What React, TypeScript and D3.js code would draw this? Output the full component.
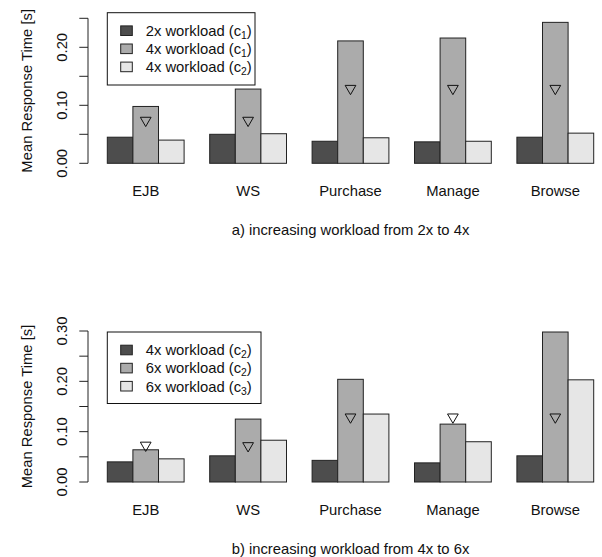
import React from "react";
import * as d3 from "d3";

const categories = ["EJB", "WS", "Purchase", "Manage", "Browse"];

// Panel a) increasing workload from 2x to 4x
const topLegendNames = ["2x workload (c", "4x workload (c", "4x workload (c"];
const topLegendSubs = ["1", "1", "2"];
const top2xC1 = [0.045, 0.05, 0.038, 0.037, 0.045];
const top4xC1 = [0.098, 0.128, 0.211, 0.216, 0.243];
const top4xC2 = [0.04, 0.051, 0.044, 0.038, 0.052];
const topPredicted = [0.074, 0.074, 0.129, 0.129, 0.129];
const topTicks = [0, 0.05, 0.1, 0.15, 0.2, 0.25];
const topTickLabels = ["0.00", "", "0.10", "", "0.20", ""];

// Panel b) increasing workload from 4x to 6x
const bottomLegendNames = ["4x workload (c", "6x workload (c", "6x workload (c"];
const bottomLegendSubs = ["2", "2", "3"];
const bottom4xC2 = [0.04, 0.052, 0.043, 0.038, 0.052];
const bottom6xC2 = [0.064, 0.125, 0.204, 0.115, 0.298];
const bottom6xC3 = [0.046, 0.083, 0.135, 0.08, 0.203];
const bottomPredicted = [0.073, 0.072, 0.129, 0.129, 0.129];
const bottomTicks = [0, 0.05, 0.1, 0.15, 0.2, 0.25, 0.3];
const bottomTickLabels = ["0.00", "", "0.10", "", "0.20", "", "0.30"];

const yTitle = "Mean Response Time [s]";
const topSubtitle = "a) increasing workload from 2x to 4x";
const bottomSubtitle = "b) increasing workload from 4x to 6x";

const fills = ["#4d4d4d", "#ababab", "#e6e6e6"];
const FONT = "'Liberation Sans', Arial, Helvetica, sans-serif";
const FS = 14.8;

type PanelProps = {
  series: number[][];
  predicted: number[];
  ticks: number[];
  tickLabels: string[];
  yMax: number;
  yTop: number;
  yBottom: number;
  legendNames: string[];
  legendSubs: string[];
  legendBox: { top: number; bottom: number; right: number };
  subtitle: string;
};

function Panel(p: PanelProps) {
  const x0 = d3
    .scaleBand<string>()
    .domain(categories)
    .range([107.3, 593.7])
    .paddingInner(0.25)
    .paddingOuter(0);
  const x1 = d3
    .scaleBand<number>()
    .domain([0, 1, 2])
    .range([0, x0.bandwidth()]);
  const y = d3.scaleLinear().domain([0, p.yMax]).range([p.yBottom, p.yTop]);
  const axisX = 88;
  const plotMid = (y(0) + y(p.yMax)) / 2;
  const plotCenterX = (107.3 + 593.7) / 2;
  const r = 6.2;
  const xc = (Math.sqrt(3) / 2) * r;
  const tri = (cx: number, cy: number) =>
    `M${cx - xc},${cy - r / 2}L${cx + xc},${cy - r / 2}L${cx},${cy + r}Z`;
  const rowGap = 18.1;
  const firstRow = p.legendBox.top + 18;
  return (
    <g>
      {/* y axis */}
      <line x1={axisX} x2={axisX} y1={y(0)} y2={y(p.yMax)} stroke="#222" strokeWidth={1} />
      {p.ticks.map((t, i) => (
        <g key={i}>
          <line x1={axisX} x2={axisX - 8.7} y1={y(t)} y2={y(t)} stroke="#222" strokeWidth={1} />
          {p.tickLabels[i] && (
            <text
              transform={`translate(66.7,${y(t)}) rotate(-90)`}
              textAnchor="middle"
              fontFamily={FONT}
              fontSize={FS}
              fill="#111"
            >
              {p.tickLabels[i]}
            </text>
          )}
        </g>
      ))}
      <text
        transform={`translate(31.7,${plotMid}) rotate(-90)`}
        textAnchor="middle"
        fontFamily={FONT}
        fontSize={FS}
        fill="#111"
      >
        {yTitle}
      </text>
      {/* bars */}
      {categories.map((c, ci) => (
        <g key={c}>
          {p.series.map((s, si) => (
            <rect
              key={si}
              x={(x0(c) as number) + (x1(si) as number)}
              y={y(s[ci])}
              width={x1.bandwidth()}
              height={y(0) - y(s[ci])}
              fill={fills[si]}
              stroke="#222"
              strokeWidth={1}
            />
          ))}
          <path
            d={tri((x0(c) as number) + (x1(1) as number) + x1.bandwidth() / 2, y(p.predicted[ci]))}
            fill="none"
            stroke="#111"
            strokeWidth={1}
          />
          <text
            x={(x0(c) as number) + x0.bandwidth() / 2}
            y={y(0) + 33}
            textAnchor="middle"
            fontFamily={FONT}
            fontSize={FS}
            fill="#111"
          >
            {c}
          </text>
        </g>
      ))}
      <text
        x={plotCenterX}
        y={y(0) + 71.5}
        textAnchor="middle"
        fontFamily={FONT}
        fontSize={FS}
        fill="#111"
      >
        {p.subtitle}
      </text>
      {/* legend */}
      <rect
        x={107.3}
        y={p.legendBox.top}
        width={p.legendBox.right - 107.3}
        height={p.legendBox.bottom - p.legendBox.top}
        fill="white"
        stroke="#111"
        strokeWidth={1}
      />
      {p.legendNames.map((n, i) => {
        const ry = firstRow + i * rowGap;
        return (
          <g key={i}>
            <rect x={120.7} y={ry - 4.8} width={11.6} height={9.6} fill={fills[i]} stroke="#222" strokeWidth={1} />
            <text x={145.7} y={ry + 5.3} fontFamily={FONT} fontSize={FS} fill="#111">
              {n}
              <tspan fontSize={FS * 0.7} dy={3}>
                {p.legendSubs[i]}
              </tspan>
              <tspan dy={-3}>)</tspan>
            </text>
          </g>
        );
      })}
    </g>
  );
}

export default function App() {
  return (
    <svg
      width={602}
      height={557}
      viewBox="0 0 602 557"
      style={{ position: "absolute", left: 0, top: 0, background: "white" }}
    >
      <rect x={0} y={0} width={602} height={557} fill="white" />
      <Panel
        series={[top2xC1, top4xC1, top4xC2]}
        predicted={topPredicted}
        ticks={topTicks}
        tickLabels={topTickLabels}
        yMax={0.25}
        yTop={18.3}
        yBottom={163.3}
        legendNames={topLegendNames}
        legendSubs={topLegendSubs}
        legendBox={{ top: 12.7, bottom: 85, right: 255 }}
        subtitle={topSubtitle}
      />
      <Panel
        series={[bottom4xC2, bottom6xC2, bottom6xC3]}
        predicted={bottomPredicted}
        ticks={bottomTicks}
        tickLabels={bottomTickLabels}
        yMax={0.3}
        yTop={331}
        yBottom={482}
        legendNames={bottomLegendNames}
        legendSubs={bottomLegendSubs}
        legendBox={{ top: 332, bottom: 403.5, right: 261 }}
        subtitle={bottomSubtitle}
      />
    </svg>
  );
}
